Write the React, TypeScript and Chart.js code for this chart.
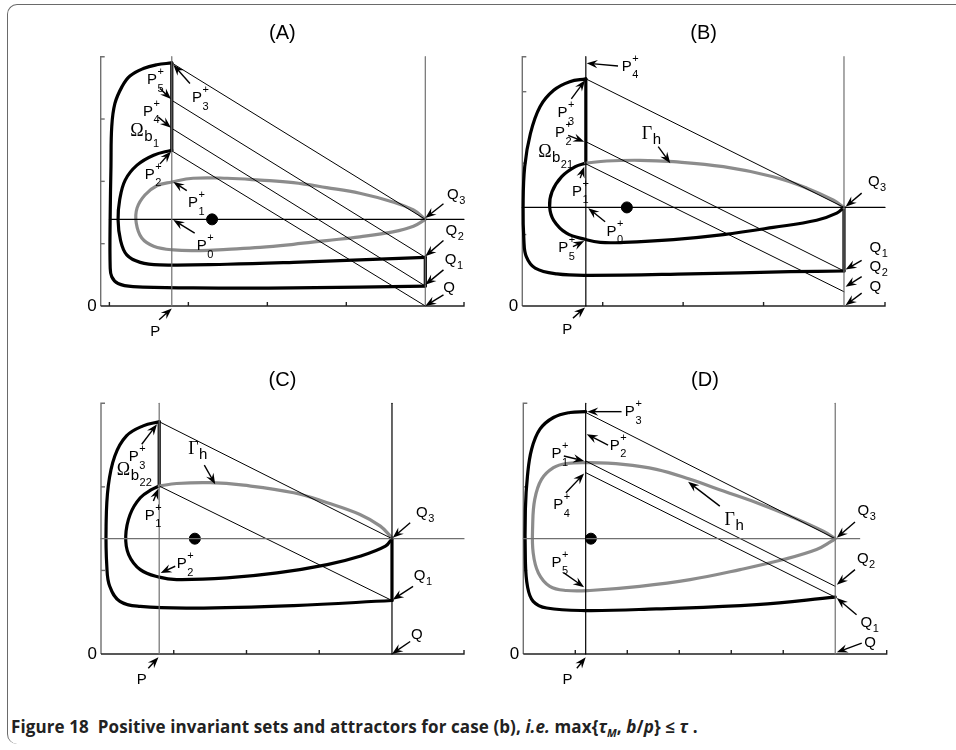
import React, { useEffect, useRef } from "react";
import { Chart, registerables } from "chart.js";
Chart.register(...registerables);

type Pt = [number, number];
type Lab = { m: string; sup?: string; sub?: string; sub2?: string; x: number; y: number };
type Arr = [number, number, number, number];

// ---------- Panel A ----------
const aOuter: Pt[] = [[0.79,3.90],[0.60,3.87],[0.43,3.81],[0.26,3.69],[0.16,3.52],[0.07,3.25],[0.03,2.88],[0.02,2.24],[0.01,1.43],[0.01,0.63],[0.03,0.47],[0.11,0.36],[0.30,0.31],[1.06,0.29],[2.33,0.29],[4.0,0.32]];
const aQSeg: Pt[] = [[4.0,0.32],[4.0,0.78]];
const aInner: Pt[] = [[4.0,0.78],[3.17,0.74],[2.33,0.70],[1.49,0.67],[0.64,0.66],[0.39,0.70],[0.22,0.82],[0.14,1.06],[0.11,1.38],[0.13,1.70],[0.20,2.02],[0.35,2.26],[0.56,2.42],[0.79,2.50]];
const aPSeg: Pt[] = [[0.79,2.50],[0.79,3.90]];
const aGray: Pt[] = [[4.0,1.39],[3.85,1.54],[3.59,1.67],[3.17,1.81],[2.75,1.90],[2.33,1.98],[1.91,2.02],[1.49,2.05],[1.06,2.05],[0.79,1.99],[0.60,1.93],[0.45,1.78],[0.35,1.57],[0.34,1.33],[0.41,1.09],[0.56,0.96],[0.81,0.90],[1.15,0.89],[1.49,0.91],[1.91,0.94],[2.33,0.99],[2.75,1.05],[3.17,1.11],[3.59,1.19],[3.85,1.28],[4.0,1.39]];
const aDiag: Pt[][] = [[[0.79,3.90],[4.0,1.39]],[[0.79,3.30],[4.0,0.78]],[[0.79,2.85],[4.0,0.32]],[[0.79,2.49],[4.0,0.0]]];
const aLabels: Lab[] = [
  { m: "P", sup: "+", sub: "5", x: 0.54, y: 3.65 },
  { m: "P", sup: "+", sub: "3", x: 1.11, y: 3.36 },
  { m: "P", sup: "+", sub: "4", x: 0.49, y: 3.14 },
  { m: "Ω", sub: "b", sub2: "1", x: 0.35, y: 2.82 },
  { m: "P", sup: "+", sub: "2", x: 0.51, y: 2.13 },
  { m: "P", sup: "+", sub: "1", x: 1.06, y: 1.67 },
  { m: "P", sup: "+", sub: "0", x: 1.17, y: 0.98 },
  { m: "Q", sub: "3", x: 4.35, y: 1.81 },
  { m: "Q", sub: "2", x: 4.33, y: 1.23 },
  { m: "Q", sub: "1", x: 4.32, y: 0.76 },
  { m: "Q", x: 4.30, y: 0.31 },
  { m: "P", x: 0.58, y: -0.39 },
];
const aArrows: Arr[] = [[0.64,3.49,0.78,3.32],[1.02,3.57,0.81,3.87],[0.62,3.03,0.78,2.86],[0.64,2.28,0.78,2.48],[0.98,1.85,0.81,1.99],[1.08,1.17,0.81,1.38],[4.23,1.64,4.0,1.41],[4.23,1.05,4.0,0.80],[4.23,0.58,4.0,0.34],[4.23,0.18,4.0,0.0],[0.63,-0.22,0.79,-0.04]];

// ---------- Panel B ----------
const bOuter: Pt[] = [[0.79,3.18],[0.59,3.14],[0.39,3.02],[0.22,2.79],[0.10,2.41],[0.03,1.95],[0.01,1.39],[0.02,0.92],[0.05,0.69],[0.16,0.53],[0.43,0.45],[0.84,0.43],[2.09,0.45],[3.33,0.48],[4.0,0.49]];
const bQSeg: Pt[] = [[4.0,0.49],[4.0,1.38]];
const bInner: Pt[] = [[4.0,1.38],[3.91,1.30],[3.66,1.20],[3.12,1.10],[2.50,1.00],[1.88,0.93],[1.26,0.89],[0.97,0.89],[0.79,0.93],[0.55,1.02],[0.39,1.20],[0.34,1.39],[0.37,1.60],[0.49,1.81],[0.66,1.95],[0.79,2.00]];
const bPSeg: Pt[] = [[0.79,2.00],[0.79,3.18]];
const bGray: Pt[] = [[0.79,2.00],[1.05,2.03],[1.46,2.04],[1.88,2.02],[2.50,1.95],[3.12,1.81],[3.54,1.65],[3.87,1.48],[4.0,1.38]];
const bDiag: Pt[][] = [[[0.79,3.18],[4.0,1.38]],[[0.79,2.30],[4.0,0.49]],[[0.79,1.99],[4.0,0.20]]];
const bLabels: Lab[] = [
  { m: "P", sup: "+", sub: "4", x: 1.30, y: 3.37 },
  { m: "P", sup: "+", sub: "3", x: 0.50, y: 2.72 },
  { m: "P", sup: "+", sub: "2", x: 0.47, y: 2.44 },
  { m: "Γ", sub: "h", x: 1.55, y: 2.41 },
  { m: "Ω", sub: "b", sub2: "21", x: 0.28, y: 2.16 },
  { m: "P", sup: "+", sub: "1", x: 0.68, y: 1.62 },
  { m: "P", sup: "+", sub: "0", x: 1.11, y: 1.06 },
  { m: "P", sup: "+", sub: "5", x: 0.51, y: 0.83 },
  { m: "Q", sub: "3", x: 4.37, y: 1.76 },
  { m: "Q", sub: "1", x: 4.39, y: 0.83 },
  { m: "Q", sub: "2", x: 4.39, y: 0.57 },
  { m: "Q", x: 4.39, y: 0.29 },
  { m: "P", x: 0.56, y: -0.31 },
];
const bArrows: Arr[] = [[1.19,3.36,0.80,3.40],[0.61,2.90,0.78,3.16],[0.57,2.39,0.77,2.30],[1.69,2.23,1.84,2.00],[0.72,1.79,0.77,1.95],[1.03,1.18,0.82,1.37],[0.63,0.83,0.77,0.91],[4.22,1.58,4.02,1.39],[4.22,0.64,4.02,0.51],[4.22,0.41,4.02,0.27],[4.22,0.18,4.02,0.01],[0.63,-0.17,0.78,-0.02]];

// ---------- Panel C ----------
const cOuter: Pt[] = [[0.80,2.78],[0.58,2.73],[0.35,2.61],[0.19,2.37],[0.10,2.01],[0.07,1.53],[0.08,1.05],[0.12,0.81],[0.26,0.63],[0.54,0.57],[1.27,0.55],[2.65,0.58],[4.0,0.64]];
const cQSeg: Pt[] = [[4.0,0.64],[4.0,1.38]];
const cInner: Pt[] = [[4.0,1.38],[3.91,1.29],[3.56,1.17],[3.11,1.07],[2.42,0.97],[1.73,0.91],[1.04,0.89],[0.80,0.92],[0.54,1.01],[0.38,1.19],[0.34,1.41],[0.40,1.67],[0.54,1.87],[0.70,1.97],[0.80,2.01]];
const cPSeg: Pt[] = [[0.80,2.01],[0.80,2.78]];
const cGray: Pt[] = [[0.80,2.01],[1.04,2.04],[1.50,2.05],[1.96,2.02],[2.65,1.93],[3.11,1.81],[3.56,1.67],[3.84,1.53],[4.0,1.39]];
const cDiag: Pt[][] = [[[0.80,2.78],[4.0,1.38]],[[0.80,2.01],[4.0,0.64]]];
const cLabels: Lab[] = [
  { m: "P", sup: "+", sub: "3", x: 0.45, y: 2.37 },
  { m: "Ω", sub: "b", sub2: "22", x: 0.31, y: 2.21 },
  { m: "Γ", sub: "h", x: 1.27, y: 2.46 },
  { m: "P", sup: "+", sub: "1", x: 0.67, y: 1.67 },
  { m: "P", sup: "+", sub: "2", x: 1.11, y: 1.09 },
  { m: "Q", sub: "3", x: 4.41, y: 1.71 },
  { m: "Q", sub: "1", x: 4.38, y: 0.95 },
  { m: "Q", x: 4.34, y: 0.25 },
  { m: "P", x: 0.56, y: -0.29 },
];
const cArrows: Arr[] = [[0.56,2.51,0.77,2.75],[1.42,2.26,1.57,2.03],[0.72,1.83,0.79,1.98],[1.02,1.05,0.82,0.97],[4.25,1.57,4.01,1.39],[4.29,0.81,4.01,0.65],[4.25,0.15,4.0,0.0],[0.65,-0.17,0.79,-0.04]];

// ---------- Panel D ----------
const dOuter: Pt[] = [[1.20,2.90],[0.90,2.89],[0.58,2.83],[0.32,2.69],[0.16,2.45],[0.08,2.13],[0.04,1.73],[0.04,1.13],[0.08,0.81],[0.19,0.63],[0.45,0.55],[1.20,0.52],[2.56,0.54],[4.49,0.59],[6.0,0.68]];
const dGray: Pt[] = [[6.0,1.38],[5.77,1.47],[5.13,1.65],[4.49,1.81],[3.85,1.95],[3.21,2.09],[2.56,2.21],[1.92,2.27],[1.28,2.29],[0.83,2.28],[0.58,2.23],[0.35,2.09],[0.22,1.85],[0.18,1.53],[0.19,1.21],[0.29,0.97],[0.51,0.81],[0.83,0.76],[1.28,0.76],[2.24,0.81],[3.21,0.89],[4.17,1.01],[5.0,1.13],[5.64,1.25],[5.93,1.35],[6.0,1.38]];
const dDiag: Pt[][] = [[[1.20,2.89],[6.0,1.38]],[[1.20,2.31],[6.0,0.81]],[[1.20,2.17],[6.0,0.68]]];
const dLabels: Lab[] = [
  { m: "P", sup: "+", sub: "3", x: 2.05, y: 2.91 },
  { m: "P", sup: "+", sub: "2", x: 1.76, y: 2.51 },
  { m: "P", sup: "+", sub: "1", x: 0.64, y: 2.41 },
  { m: "P", sup: "+", sub: "4", x: 0.67, y: 1.80 },
  { m: "Γ", sub: "h", x: 3.97, y: 1.61 },
  { m: "P", sup: "+", sub: "5", x: 0.64, y: 1.11 },
  { m: "Q", sub: "3", x: 6.54, y: 1.73 },
  { m: "Q", sub: "2", x: 6.53, y: 1.16 },
  { m: "Q", sub: "1", x: 6.60, y: 0.39 },
  { m: "Q", x: 6.67, y: 0.15 },
  { m: "P", x: 0.85, y: -0.29 },
];
const dArrows: Arr[] = [[1.89,2.90,1.23,2.90],[1.63,2.50,1.22,2.63],[0.78,2.37,1.17,2.31],[0.82,1.93,1.17,2.16],[3.78,1.77,3.17,2.06],[0.78,0.97,1.17,0.80],[6.38,1.58,6.03,1.39],[6.38,1.01,6.03,0.83],[6.41,0.47,6.03,0.67],[6.51,0.13,6.03,0.02],[1.03,-0.17,1.20,-0.04]];

// ---------- Panel settings ----------
type Cfg = {
  title: string;
  xMin: number; xMax: number; yMax: number;
  xTicks: number[]; yTicks: number[];
  pX: number; qX: number; eqX: number; eqY: number; hStart: number; hEnd: number;
  pTop: number;
  pColor: string; qColor: string; hColor: string;
  black: Pt[][]; gray: Pt[][]; straight: Pt[][]; diag: Pt[][];
  labels: Lab[]; arrows: Arr[];
  box: { l: number; t: number; w: number; h: number };
  pad: { left: number; top: number; right: number; bottom: number };
};

const GRAY = "#8c8c8c";
const AXGRAY = "#707070";

const panels: Cfg[] = [
  {
    title: "(A)", xMin: -0.11, xMax: 4.49, yMax: 4.0, xTicks: [0, 1, 2, 3], yTicks: [1, 2, 3],
    pX: 0.79, qX: 4.0, eqX: 1.3, eqY: 1.39, hStart: 0, hEnd: 4.49, pTop: 4.0,
    pColor: AXGRAY, qColor: AXGRAY, hColor: "#000",
    black: [aOuter, aInner], gray: [aGray], straight: [aQSeg, aPSeg], diag: aDiag,
    labels: aLabels, arrows: aArrows,
    box: { l: 20, t: 8, w: 470, h: 345 }, pad: { left: 80.7, top: 48.7, right: 26, bottom: 47 },
  },
  {
    title: "(B)", xMin: 0, xMax: 4.51, yMax: 3.49, xTicks: [1, 2, 3], yTicks: [1, 2, 3],
    pX: 0.79, qX: 4.0, eqX: 1.3, eqY: 1.38, hStart: 0, hEnd: 4.51, pTop: 3.49,
    pColor: "#000", qColor: AXGRAY, hColor: "#000",
    black: [bOuter, bInner], gray: [bGray], straight: [bQSeg, bPSeg], diag: bDiag,
    labels: bLabels, arrows: bArrows,
    box: { l: 490, t: 8, w: 466, h: 345 }, pad: { left: 32.3, top: 48.7, right: 71, bottom: 47 },
  },
  {
    title: "(C)", xMin: 0, xMax: 4.99, yMax: 3.0, xTicks: [1, 2, 3], yTicks: [1, 2],
    pX: 0.8, qX: 4.0, eqX: 1.29, eqY: 1.38, hStart: 0, hEnd: 4.99, pTop: 3.0,
    pColor: AXGRAY, qColor: "#000", hColor: AXGRAY,
    black: [cOuter, cInner], gray: [cGray], straight: [cQSeg, cPSeg], diag: cDiag,
    labels: cLabels, arrows: cArrows,
    box: { l: 20, t: 360, w: 470, h: 330 }, pad: { left: 81, top: 43.3, right: 26, bottom: 36 },
  },
  {
    title: "(D)", xMin: 0, xMax: 6.99, yMax: 3.0, xTicks: [1, 2, 3, 4, 5], yTicks: [1, 2],
    pX: 1.2, qX: 6.0, eqX: 1.3, eqY: 1.38, hStart: 0, hEnd: 6.47, pTop: 3.0,
    pColor: "#000", qColor: AXGRAY, hColor: AXGRAY,
    black: [dOuter], gray: [dGray], straight: [], diag: dDiag,
    labels: dLabels, arrows: dArrows,
    box: { l: 490, t: 360, w: 466, h: 330 }, pad: { left: 33.3, top: 43.3, right: 69.3, bottom: 36 },
  },
];

function lineDs(pts: Pt[], color: string, width: number, tension = 0) {
  return {
    data: pts.map(([x, y]) => ({ x, y })),
    showLine: true,
    borderColor: color,
    backgroundColor: color,
    borderWidth: width,
    pointRadius: 0,
    tension,
    fill: false,
    borderCapStyle: "round",
    borderJoinStyle: "round",
    clip: false,
  } as any;
}

function drawLabel(ctx: CanvasRenderingContext2D, px: number, py: number, lab: Lab) {
  const serif = lab.m === "Ω" || lab.m === "Γ";
  ctx.fillStyle = "#000";
  ctx.textBaseline = "alphabetic";
  ctx.textAlign = "center";
  ctx.font = serif ? '18px "Liberation Serif"' : '15px "Liberation Sans"';
  const b = py + 5.5;
  ctx.fillText(lab.m, px, b);
  const w = ctx.measureText(lab.m).width;
  const after = px + w / 2 + 0.5;
  ctx.textAlign = "left";
  if (lab.sup) {
    ctx.font = '11px "Liberation Sans"';
    ctx.fillText(lab.sup, after, b - 9);
  }
  if (lab.sub) {
    if (serif) {
      ctx.font = '15px "Liberation Sans"';
      ctx.fillText(lab.sub, after, b + 5);
      if (lab.sub2) {
        const w2 = ctx.measureText(lab.sub).width;
        ctx.font = '11px "Liberation Sans"';
        ctx.fillText(lab.sub2, after + w2 + 0.5, b + 11);
      }
    } else {
      ctx.font = '11px "Liberation Sans"';
      ctx.fillText(lab.sub, after, lab.sup ? b + 7.5 : b + 5);
    }
  }
}

function drawArrow(ctx: CanvasRenderingContext2D, x1: number, y1: number, x2: number, y2: number) {
  ctx.strokeStyle = "#000";
  ctx.fillStyle = "#000";
  ctx.lineWidth = 1.4;
  const ang = Math.atan2(y2 - y1, x2 - x1);
  const c = Math.cos(ang), s = Math.sin(ang);
  const L = 11, W = 4.2;
  ctx.beginPath();
  ctx.moveTo(x1, y1);
  ctx.lineTo(x2 - c * 5, y2 - s * 5);
  ctx.stroke();
  ctx.beginPath();
  ctx.moveTo(x2, y2);
  ctx.lineTo(x2 - L * c - W * s, y2 - L * s + W * c);
  ctx.lineTo(x2 - L * 0.65 * c, y2 - L * 0.65 * s);
  ctx.lineTo(x2 - L * c + W * s, y2 - L * s - W * c);
  ctx.closePath();
  ctx.fill();
}

function Panel({ cfg }: { cfg: Cfg }) {
  const ref = useRef<HTMLCanvasElement>(null);
  useEffect(() => {
    const datasets: any[] = [];
    datasets.push(lineDs([[cfg.pX, 0], [cfg.pX, cfg.pTop]], cfg.pColor, 1.2));
    datasets.push(lineDs([[cfg.qX, 0], [cfg.qX, cfg.yMax]], cfg.qColor, 1.2));
    datasets.push(lineDs([[cfg.hStart, cfg.eqY], [cfg.hEnd, cfg.eqY]], cfg.hColor, 1.2));
    cfg.diag.forEach((d) => datasets.push(lineDs(d, "#000", 1)));
    cfg.gray.forEach((g) => datasets.push(lineDs(g, GRAY, 3.2, 0.4)));
    cfg.black.forEach((g) => datasets.push(lineDs(g, "#000", 3.2, 0.4)));
    cfg.straight.forEach((g) => datasets.push(lineDs(g, "#000", 3.2)));
    datasets.push({
      data: [{ x: cfg.eqX, y: cfg.eqY }],
      showLine: false,
      pointRadius: 5.5,
      pointBackgroundColor: "#000",
      pointBorderColor: "#000",
      clip: false,
    });

    const plugin = {
      id: "figdecor",
      beforeDatasetsDraw(chart: any) {
        const ctx: CanvasRenderingContext2D = chart.ctx;
        const xs = chart.scales.x, ys = chart.scales.y;
        const L = chart.chartArea.left, R = chart.chartArea.right;
        const T = chart.chartArea.top, B = chart.chartArea.bottom;
        ctx.save();
        ctx.lineWidth = 1.4;
        ctx.strokeStyle = AXGRAY;
        ctx.beginPath();
        ctx.moveTo(L, B); ctx.lineTo(L, T); ctx.lineTo(L + 4, T);
        ctx.stroke();
        cfg.yTicks.forEach((v) => {
          const y = ys.getPixelForValue(v);
          ctx.beginPath(); ctx.moveTo(L, y); ctx.lineTo(L + 4, y); ctx.stroke();
        });
        ctx.strokeStyle = "#222";
        ctx.beginPath();
        ctx.moveTo(L, B); ctx.lineTo(R, B); ctx.lineTo(R, B - 4);
        ctx.stroke();
        cfg.xTicks.forEach((v) => {
          const x = xs.getPixelForValue(v);
          ctx.beginPath(); ctx.moveTo(x, B); ctx.lineTo(x, B - 4); ctx.stroke();
        });
        ctx.fillStyle = "#000";
        ctx.font = '17px "Liberation Sans"';
        ctx.textAlign = "right";
        ctx.textBaseline = "middle";
        ctx.fillText("0", L - 4, B);
        ctx.font = '20px "Liberation Sans"';
        ctx.textAlign = "center";
        ctx.fillText(cfg.title, (L + R) / 2, T - 23);
        ctx.restore();
      },
      afterDatasetsDraw(chart: any) {
        const ctx: CanvasRenderingContext2D = chart.ctx;
        const xs = chart.scales.x, ys = chart.scales.y;
        ctx.save();
        cfg.arrows.forEach(([x1, y1, x2, y2]) =>
          drawArrow(ctx, xs.getPixelForValue(x1), ys.getPixelForValue(y1), xs.getPixelForValue(x2), ys.getPixelForValue(y2))
        );
        cfg.labels.forEach((lab) => drawLabel(ctx, xs.getPixelForValue(lab.x), ys.getPixelForValue(lab.y), lab));
        ctx.restore();
      },
    };

    const chart = new Chart(ref.current!, {
      type: "scatter",
      data: { datasets },
      options: {
        animation: false,
        responsive: false,
        maintainAspectRatio: false,
        events: [],
        layout: { padding: cfg.pad },
        plugins: { legend: { display: false }, tooltip: { enabled: false }, title: { display: false } },
        scales: {
          x: { type: "linear", min: cfg.xMin, max: cfg.xMax, display: false },
          y: { type: "linear", min: 0, max: cfg.yMax, display: false },
        },
      },
      plugins: [plugin],
    } as any);
    return () => chart.destroy();
  }, []);
  return (
    <canvas
      ref={ref}
      width={cfg.box.w}
      height={cfg.box.h}
      style={{ position: "absolute", left: cfg.box.l, top: cfg.box.t, width: cfg.box.w, height: cfg.box.h }}
    />
  );
}

export default function App() {
  return (
    <div style={{ position: "absolute", left: 0, top: 0, width: 956, height: 750, background: "#fff", overflow: "hidden" }}>
      <div
        style={{
          position: "absolute", left: 7, top: 4, width: 970, height: 740,
          borderTop: "1.5px solid #6a6a6a", borderLeft: "1.5px solid #6a6a6a",
          borderTopLeftRadius: 10, borderBottomLeftRadius: 10, boxSizing: "border-box",
        }}
      />
      {panels.map((p) => (
        <Panel key={p.title} cfg={p} />
      ))}
      <div
        style={{
          position: "absolute", left: 11, top: 715, fontFamily: '"Open Sans", "Liberation Sans", sans-serif',
          fontWeight: 700, fontSize: 17, color: "#222", whiteSpace: "nowrap", letterSpacing: 0.1,
        }}
      >
        Figure 18&nbsp;&nbsp;Positive invariant sets and attractors for case (b), <i>i.e.</i> max{"{"}
        <i>τ</i><sub style={{ fontSize: 11 }}><i>M</i></sub>, <i>b</i>/<i>p</i>{"}"} ≤ <i>τ</i> .
      </div>
    </div>
  );
}
